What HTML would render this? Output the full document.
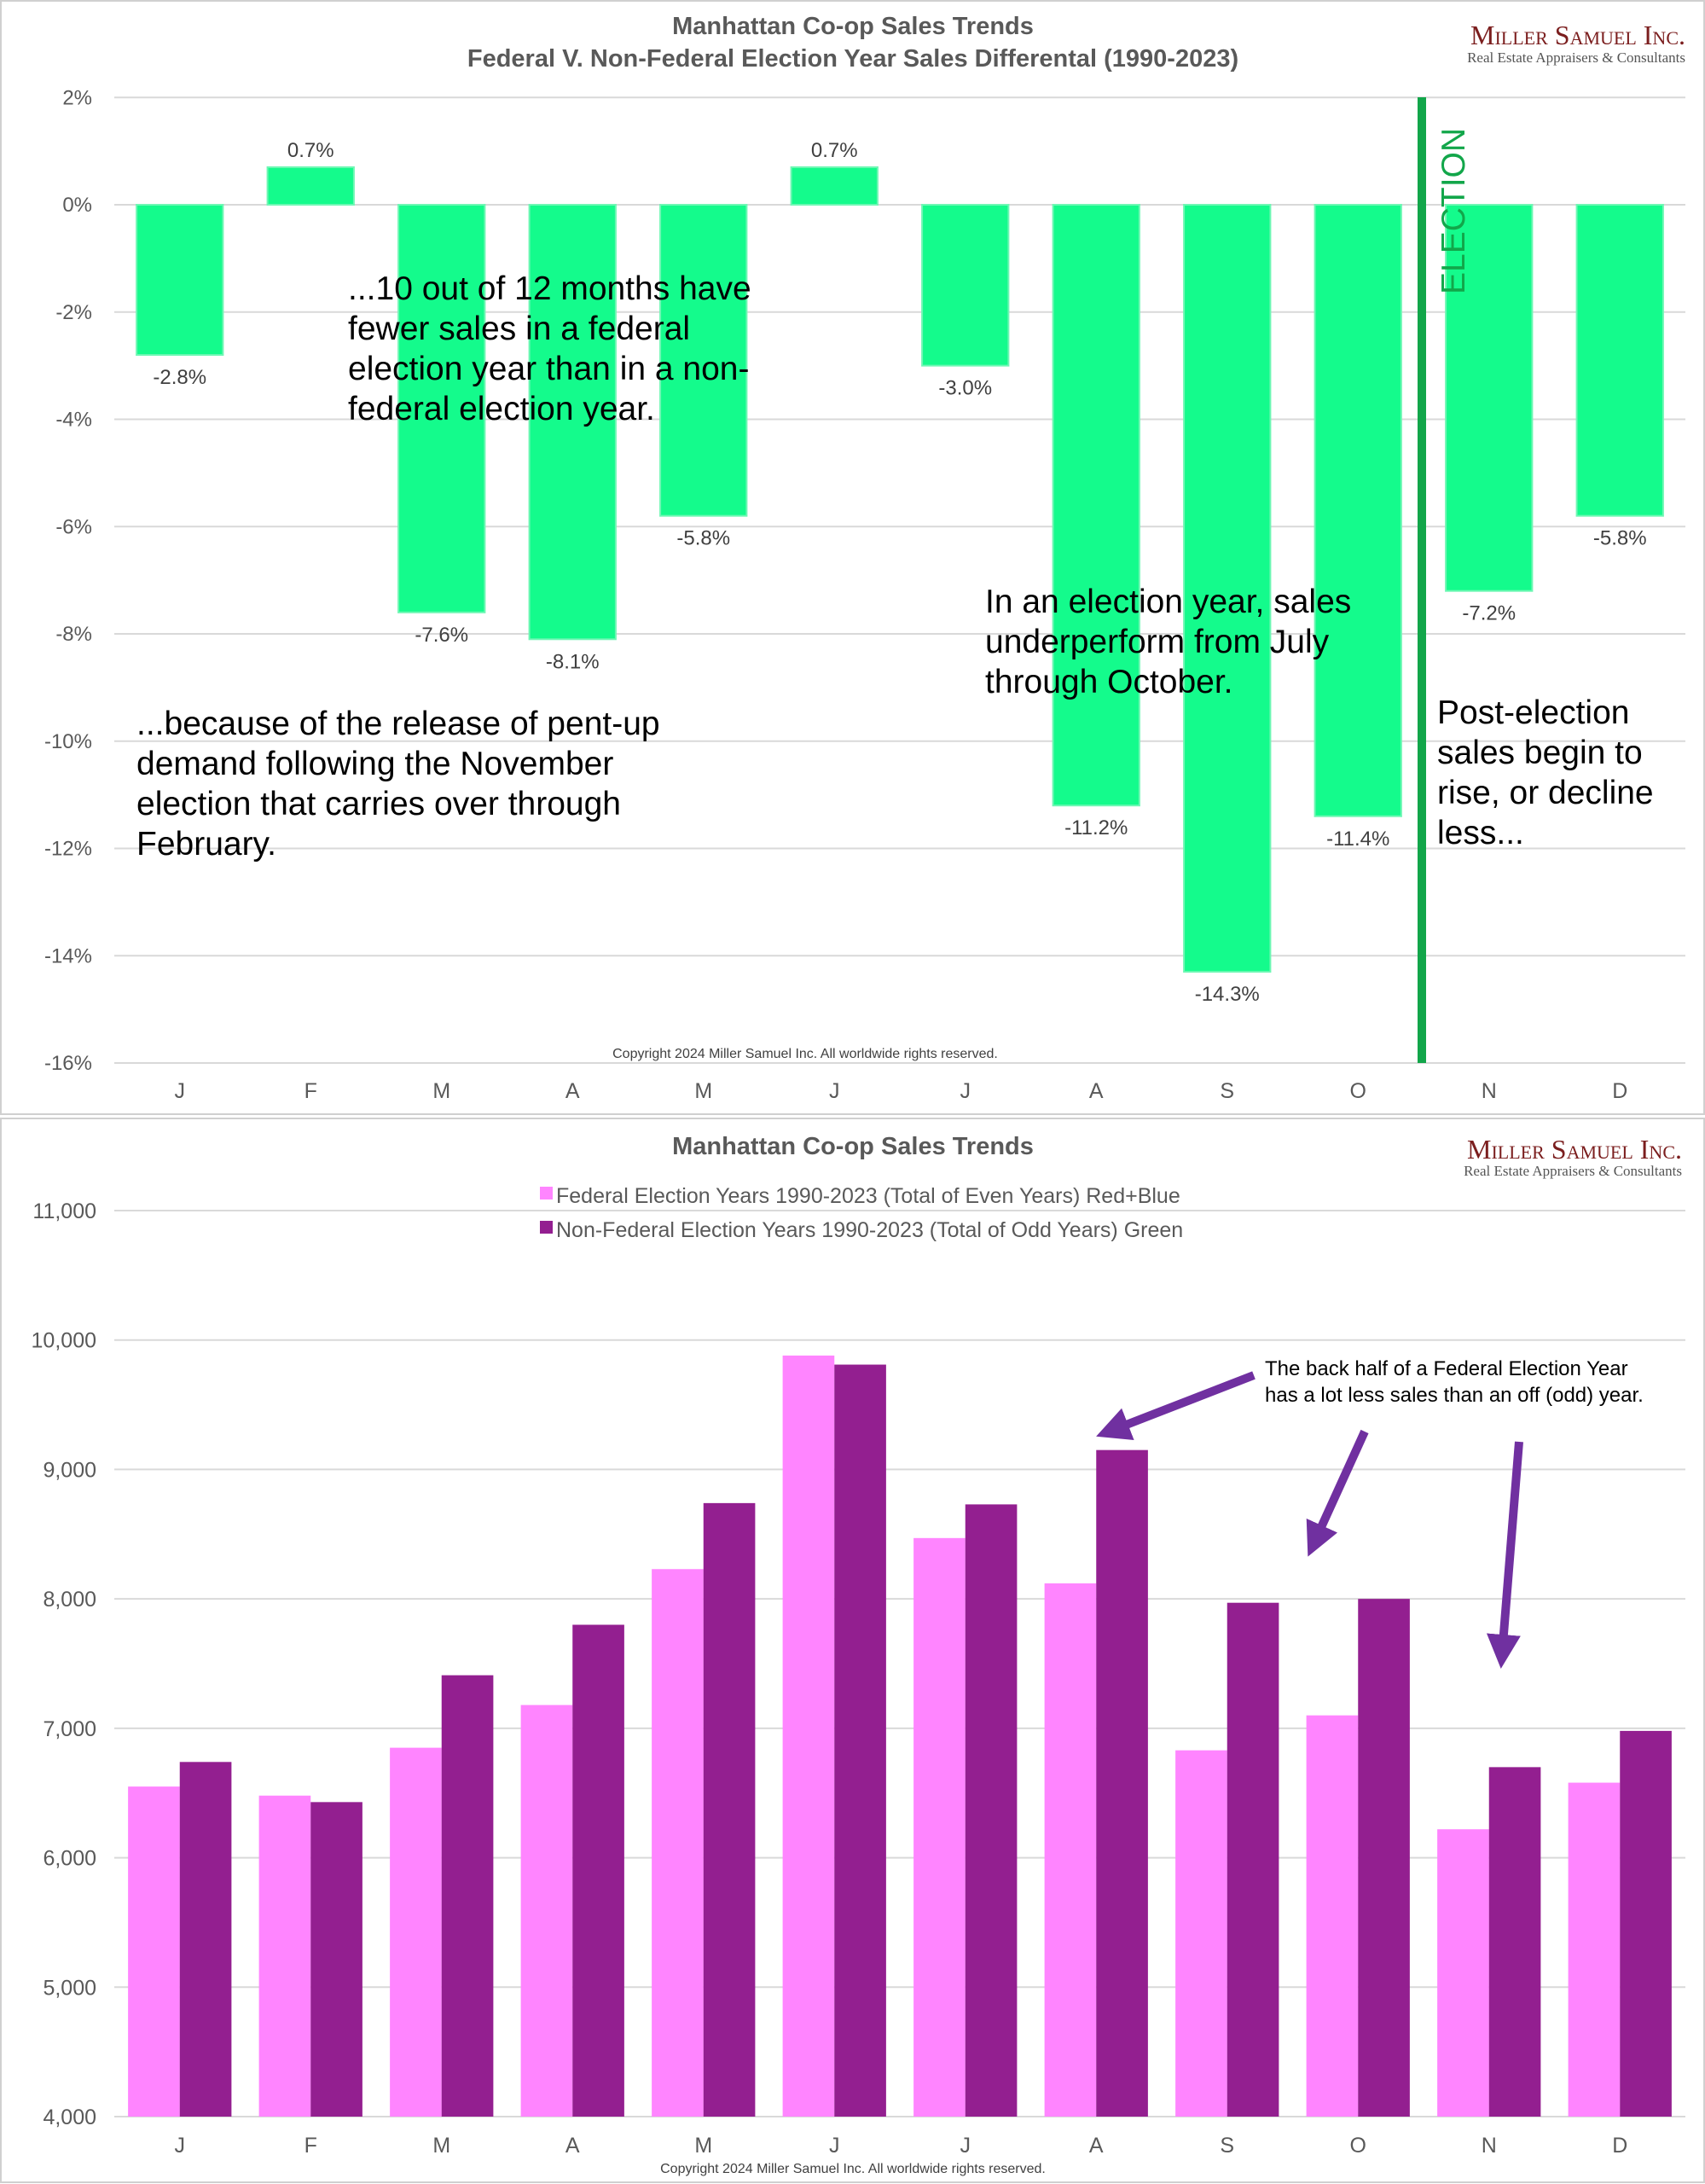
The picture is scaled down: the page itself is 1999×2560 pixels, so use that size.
<!DOCTYPE html>
<html><head><meta charset="utf-8"><style>
body{margin:0;background:#fff;}
svg{display:block;font-family:"Liberation Sans",sans-serif;}
</style></head><body>
<svg id="c" width="1999" height="2560" viewBox="0 0 1999 2560">
<rect x="1" y="1" width="1997" height="1305" fill="#fff" stroke="#d0d0d0" stroke-width="2"/>
<rect x="1" y="1311" width="1997" height="1247" fill="#fff" stroke="#d0d0d0" stroke-width="2"/>
<g id="topChart"></g>
<g id="botChart"></g>
</svg>
<script>
const months=["J","F","M","A","M","J","J","A","S","O","N","D"];
const diffValues=[-2.8,0.7,-7.6,-8.1,-5.8,0.7,-3.0,-11.2,-14.3,-11.4,-7.2,-5.8];
const diffTicks=[2,0,-2,-4,-6,-8,-10,-12,-14,-16];
const fedValues=[6550,6480,6850,7180,8230,9880,8470,8120,6830,7100,6220,6580];
const nonFedValues=[6740,6430,7410,7800,8740,9810,8730,9150,7970,8000,6700,6980];
const salesTicks=[4000,5000,6000,7000,8000,9000,10000,11000];
const NS="http://www.w3.org/2000/svg";
function mk(p,t,a,txt){const e=document.createElementNS(NS,t);for(const k in a)e.setAttribute(k,a[k]);if(txt!==undefined)e.textContent=txt;p.appendChild(e);return e;}
const L=134,R=1976,cw=(R-L)/12;
function xc(i){return L+cw*(i+0.5);}
const topG=document.getElementById('topChart');
function yT(v){return 240-(v)*(1006/16);}
diffTicks.forEach(t=>{
 const g=mk(topG,'line',{x1:L,x2:R,y1:yT(t),y2:yT(t),stroke:'#d9d9d9','stroke-width':2});
 
 const tl=mk(topG,'text',{x:108,y:yT(t)+8,'text-anchor':'end','font-size':24,fill:'#595959'},t+'%');
 
});
diffValues.forEach((v,i)=>{
 const bw=cw*0.66,y0=yT(0),y1=yT(v);
 const b=mk(topG,'rect',{x:xc(i)-bw/2,y:Math.min(y0,y1),width:bw,height:Math.abs(y1-y0),fill:'#14fb8c',stroke:'#6ff7b4','stroke-width':2});
 
 const ly=v>=0?y1-12:y1+34;
 const lb=mk(topG,'text',{x:xc(i),y:ly,'text-anchor':'middle','font-size':24,fill:'#404040'},v.toFixed(1)+'%');
 
 const xl=mk(topG,'text',{x:xc(i),y:1287,'text-anchor':'middle','font-size':25,fill:'#595959'},months[i]);
 
});
const botG=document.getElementById('botChart');
function yB(v){return 2481-(v-4000)*(1062/7000);}
salesTicks.forEach(t=>{
 const g=mk(botG,'line',{x1:L,x2:R,y1:yB(t),y2:yB(t),stroke:'#d9d9d9','stroke-width':2});
 
 const tl=mk(botG,'text',{x:113,y:yB(t)+9,'text-anchor':'end','font-size':25,fill:'#595959'},t.toLocaleString('en-US'));
 
});
months.forEach((m,i)=>{
 const bw=cw*0.395;
 const a=mk(botG,'rect',{x:xc(i)-bw,y:yB(fedValues[i]),width:bw,height:yB(4000)-yB(fedValues[i]),fill:'#ff85ff'});
 
 const b=mk(botG,'rect',{x:xc(i),y:yB(nonFedValues[i]),width:bw,height:yB(4000)-yB(nonFedValues[i]),fill:'#931f90'});
 
 const xl=mk(botG,'text',{x:xc(i),y:2523,'text-anchor':'middle','font-size':25,fill:'#595959'},m);
 
});
</script>
<svg style="position:absolute;left:0;top:0" width="1999" height="2560">
<defs><marker id="ah" viewBox="0 0 10 10" refX="6" refY="5" markerWidth="4" markerHeight="4" orient="auto"><path d="M0,0L10,5L0,10z" fill="#7030a0"/></marker></defs>
<g font-family="Liberation Sans, sans-serif">
<text x="1000" y="40" text-anchor="middle" font-size="29" font-weight="bold" fill="#595959">Manhattan Co-op Sales Trends</text>
<text x="1000" y="78" text-anchor="middle" font-size="29" font-weight="bold" fill="#595959">Federal V. Non-Federal Election Year Sales Differental (1990-2023)</text>
<g><text x="1976" y="52" text-anchor="end" font-family="Liberation Serif,serif" font-size="32" fill="#7b1e1e" font-variant="small-caps">Miller Samuel Inc.</text><text x="1976" y="73" text-anchor="end" font-family="Liberation Serif,serif" font-size="17" fill="#555">Real Estate Appraisers &amp; Consultants</text></g>
<line x1="1667" y1="114" x2="1667" y2="1246" stroke="#12a64a" stroke-width="10"/>
<text transform="translate(1717,345) rotate(-90)" font-size="39" fill="#12a64a">ELECTION</text>
<g font-size="39" fill="#000">
<text x="408" y="351"><tspan x="408">...10 out of 12 months have</tspan><tspan x="408" dy="47">fewer sales in a federal</tspan><tspan x="408" dy="47">election year than in a non-</tspan><tspan x="408" dy="47">federal election year.</tspan></text>
<text x="160" y="861"><tspan x="160">...because of the release of pent-up</tspan><tspan x="160" dy="47">demand following the November</tspan><tspan x="160" dy="47">election that carries over through</tspan><tspan x="160" dy="47">February.</tspan></text>
<text x="1155" y="718"><tspan x="1155">In an election year, sales</tspan><tspan x="1155" dy="47">underperform from July</tspan><tspan x="1155" dy="47">through October.</tspan></text>
<text x="1685" y="848"><tspan x="1685">Post-election</tspan><tspan x="1685" dy="47">sales begin to</tspan><tspan x="1685" dy="47">rise, or decline</tspan><tspan x="1685" dy="47">less...</tspan></text>
</g>
<text x="944" y="1240" text-anchor="middle" font-size="16" fill="#404040">Copyright 2024 Miller Samuel Inc. All worldwide rights reserved.</text>
<text x="1000" y="1353" text-anchor="middle" font-size="29" font-weight="bold" fill="#595959">Manhattan Co-op Sales Trends</text>
<g><text x="1972" y="1358" text-anchor="end" font-family="Liberation Serif,serif" font-size="32" fill="#7b1e1e" font-variant="small-caps">Miller Samuel Inc.</text><text x="1972" y="1378" text-anchor="end" font-family="Liberation Serif,serif" font-size="17" fill="#555">Real Estate Appraisers &amp; Consultants</text></g>
<g><rect x="633" y="1391" width="15" height="15" fill="#ff85ff"/><text x="652" y="1410" font-size="25" fill="#595959">Federal Election Years 1990-2023 (Total of Even Years) Red+Blue</text></g>
<g><rect x="633" y="1431" width="15" height="15" fill="#931f90"/><text x="652" y="1450" font-size="25" fill="#595959">Non-Federal Election Years 1990-2023 (Total of Odd Years) Green</text></g>
<text x="1483" y="1612" font-size="24" fill="#000"><tspan x="1483">The back half of a Federal Election Year</tspan><tspan x="1483" dy="31">has a lot less sales than an off (odd) year.</tspan></text>
<g stroke="#7030a0" stroke-width="10" fill="none" marker-end="url(#ah)">
<line x1="1470" y1="1612" x2="1300" y2="1678"/>
<line x1="1600" y1="1678" x2="1540" y2="1810"/>
<line x1="1781" y1="1690" x2="1761" y2="1940"/>
</g>
<text x="1000" y="2547" text-anchor="middle" font-size="16" fill="#404040">Copyright 2024 Miller Samuel Inc. All worldwide rights reserved.</text>
</g></svg>
</body></html>
